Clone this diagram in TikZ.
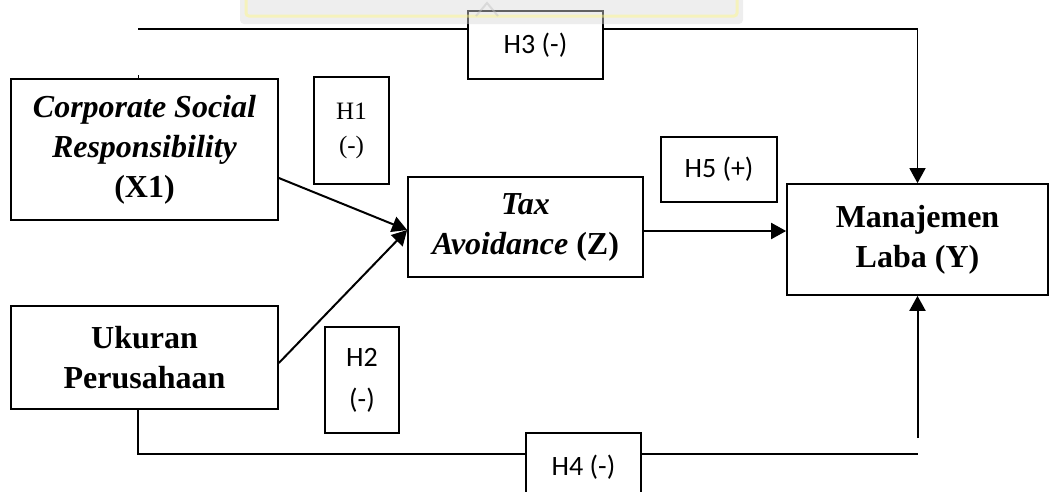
\documentclass[tikz,border=0pt]{standalone}
\usepackage{fontspec}
\setmainfont{Liberation Serif}
\newfontfamily\calibri{Carlito}
\usetikzlibrary{arrows.meta,calc}

\tikzset{
  varbox/.style={draw, line width=1.7pt, align=flush center, inner sep=0pt,
    font=\fontsize{32}{40}\selectfont\bfseries},
  hypbox/.style={draw, line width=1.5pt, fill=white, align=flush center, inner sep=0pt,
    font=\calibri\fontsize{28}{42}\selectfont},
  link/.style={line width=2pt, -{Triangle[length=15pt,width=16pt]}},
}

\begin{document}
\begin{tikzpicture}[x=1pt, y=-1pt]

    % --- Frame (pixel grid, y downward) ---
    \useasboundingbox (0,0) rectangle (1050,491);
    \clip (0,0) rectangle (1050,491);

    % --- Variable Boxes ---
    
    % X1 on the upper left
    \node[varbox, text width=267pt, minimum height=141pt] (csr) at (144.5,149.5)
        {\textit{Corporate Social}\\ \textit{Responsibility}\\ (X1)};
    
    % X2 on the lower left
    \node[varbox, text width=267pt, minimum height=103pt] (ukuran) at (144.5,357.5)
        {Ukuran\\ Perusahaan};
    
    % Z in the middle
    \node[varbox, text width=235pt, minimum height=100pt] (tax) at (525.5,227)
        {\textit{Tax}\\ \textit{Avoidance} (Z)};
    
    % Y on the right
    \node[varbox, text width=261pt, minimum height=111pt] (laba) at (917.5,239.5)
        {Manajemen\\ Laba (Y)};

    % --- Hypothesis Boxes (beside the arrows) ---
    \node[hypbox, font=\fontsize{25}{34}\selectfont, text width=75pt, minimum height=107pt]
        (h1) at (351.5,130.5) {H1\\ (-)};
    \node[hypbox, text width=74pt, minimum height=106pt] (h2) at (362,380) {H2\\ (-)};
    \node[hypbox, text width=116pt, minimum height=65pt] (h5) at (719,169.5) {H5 (+)};

    % --- Connection Points ---
    \coordinate (topstart) at (138,29);
    \coordinate (botend) at (917.5,454);
    \coordinate (taxin) at ($(tax.west)+(0,3)$);
    \coordinate (taxout) at ($(tax.east)+(0,4)$);

    % --- Draw Arrows ---
    
    % X1 -> Z and X2 -> Z
    \draw[link] ($(csr.east)+(0,28.5)$) -- (taxin);
    \draw[link] ($(ukuran.east)+(0,5.5)$) -- (taxin);

    % Z -> Y
    \draw[link] (taxout) -- (taxout -| laba.west);

    % X1 -> Y along the top
    \draw[line width=0.8pt] (csr.north -| topstart) -- ++(0,-3);
    \draw[link, line width=1.5pt] (topstart) -| (laba.north);

    % X2 -> Y along the bottom
    \draw[line width=2pt] (topstart |- ukuran.south) |- (botend);
    \draw[link] ($(botend)+(0,-16)$) -- (laba.south);

    % Labels sitting on the long lines
    \node[hypbox, text width=135pt, minimum height=68pt] (h3) at (535.5,45) {H3 (-)};
    \node[hypbox, text width=115pt, minimum height=68pt] (h4) at (583.5,467) {H4 (-)};

    % --- Faint watermark band at the top ---
    \begin{scope}[opacity=0.45]
      \fill[gray!30, rounded corners=4pt] (240,-6) rectangle (743,24);
      \draw[yellow!50, line width=3pt, rounded corners=3pt] (246,-6) rectangle (737,16);
      \draw[gray!50, line width=2pt] (476,16) -- (487,3) -- (498,16);
    \end{scope}

\end{tikzpicture}
\end{document}
